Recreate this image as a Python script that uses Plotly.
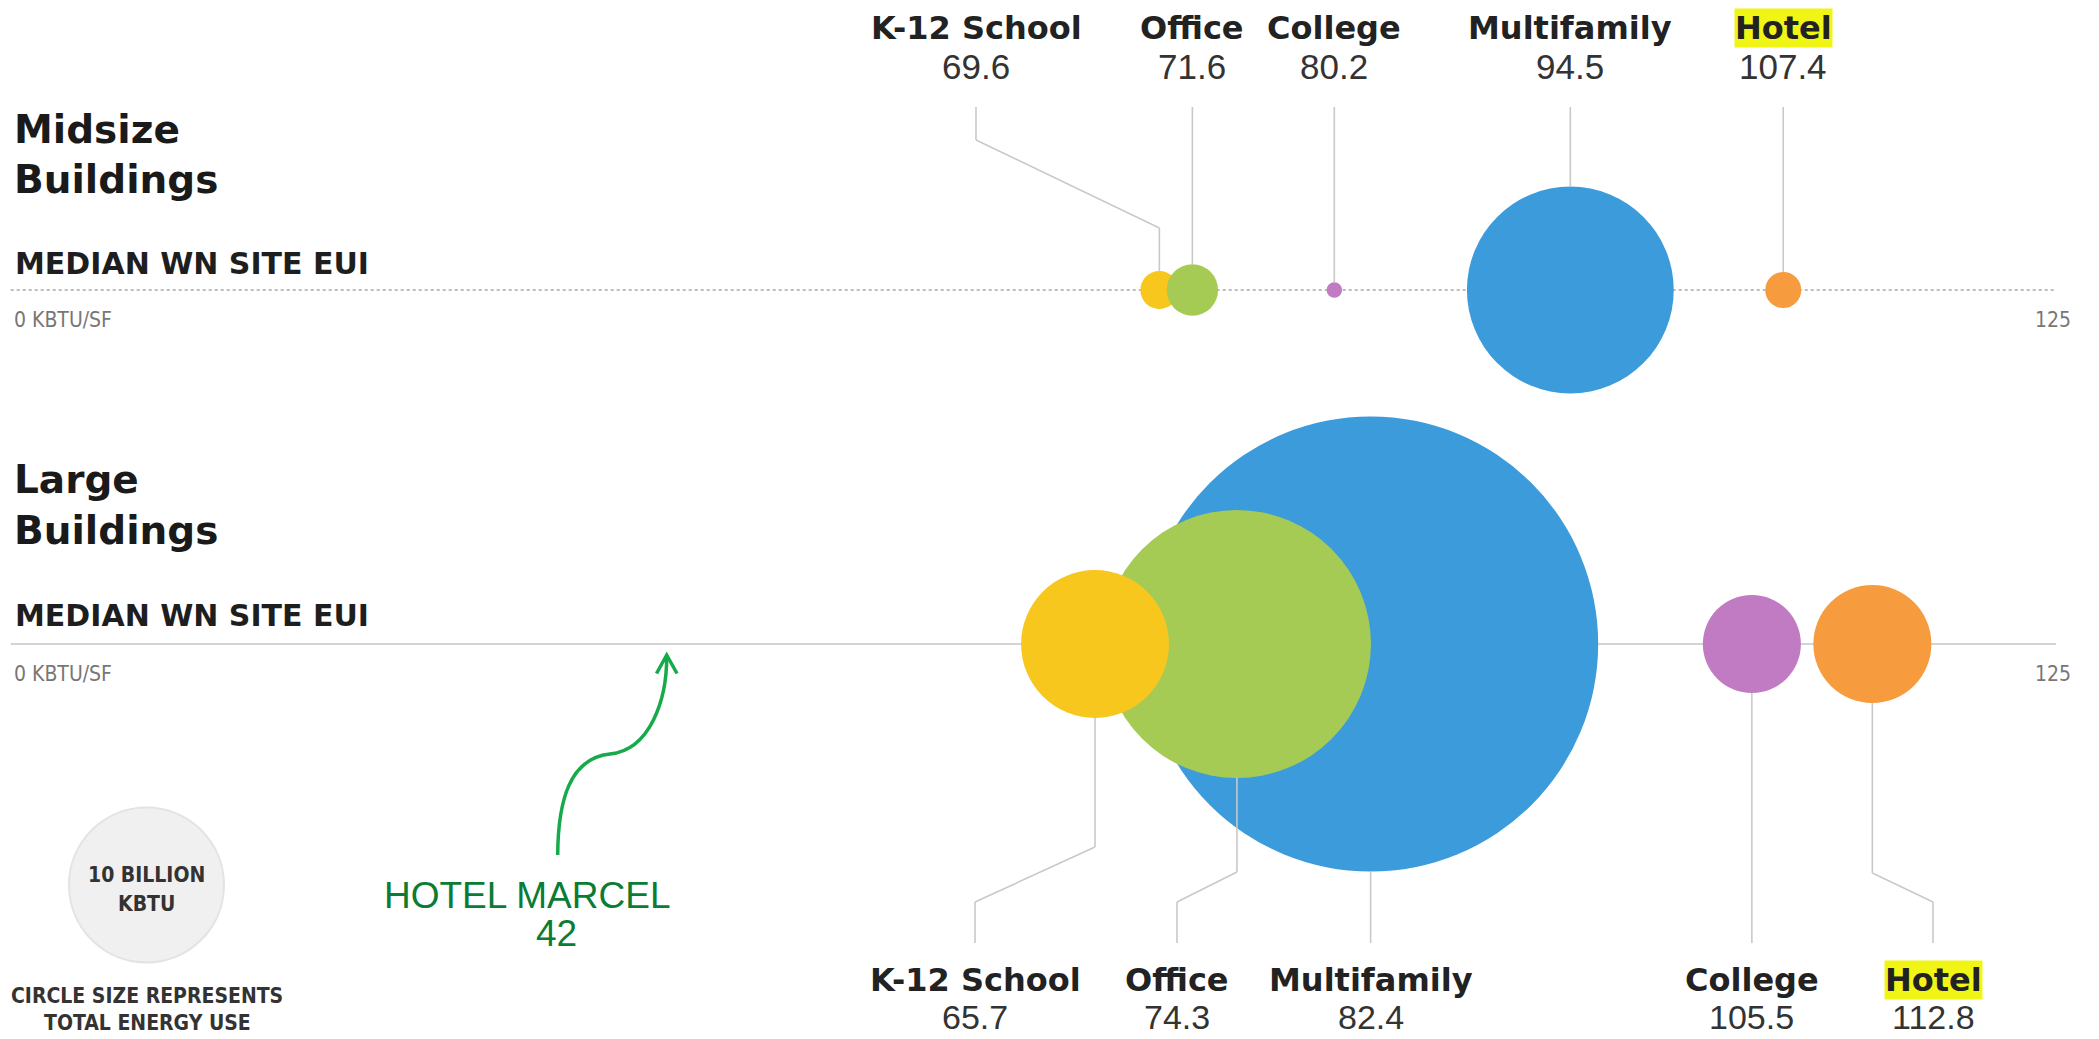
import math
import plotly.graph_objects as go

# ---------------- data ----------------
categories = ["K-12 School", "Office", "College", "Multifamily", "Hotel"]
midsize_eui = [69.6, 71.6, 80.2, 94.5, 107.4]          # kBtu/sf
large_eui = [65.7, 74.3, 105.5, 82.4, 112.8]           # kBtu/sf
midsize_energy = [0.6, 1.1, 0.1, 17.8, 0.54]           # billion kBtu (circle area)
large_energy = [9.1, 29.9, 4.0, 86.2, 5.8]             # billion kBtu (circle area)
legend_energy = 10                                     # billion kBtu
axis_min, axis_max = 0, 125
axis_min_label = "0 KBTU/SF"
axis_max_label = "125"
highlight_category = "Hotel"
callout_name = "HOTEL MARCEL"
callout_value = 42

# ---------------- styling / layout ----------------
W, H = 2099, 1039
X0_PX = 10.7
PX_PER_UNIT = 16.504
LEGEND_D = 155.0
SIZEREF = 2.0 * legend_energy / LEGEND_D ** 2

colors = {"K-12 School": "#f8c71d", "Office": "#a6cb55", "College": "#c17bc2",
          "Multifamily": "#3b9bdb", "Hotel": "#f79c3e"}
ROW_Y = {"mid": 290, "large": 644}

NAME_FONT = "DejaVu Sans"
VALUE_FONT = "Liberation Sans"
NARROW = "Liberation Sans Narrow, DejaVu Sans Condensed, Arial Narrow, sans-serif"
LINE_COL = "#c9c9c9"


def xval(px):
    return (px - X0_PX) / PX_PER_UNIT


def xpx(v):
    return X0_PX + v * PX_PER_UNIT


def diam(e):
    return math.sqrt(2.0 * e / SIZEREF)


fig = go.Figure()

# circles (draw order per row controls overlap)
mid_order = [0, 1, 2, 3, 4]
large_order = [3, 1, 0, 2, 4]
for eui, energy, order, row in [(midsize_eui, midsize_energy, mid_order, "mid"),
                                (large_eui, large_energy, large_order, "large")]:
    fig.add_trace(go.Scatter(
        x=[eui[i] for i in order],
        y=[ROW_Y[row]] * len(order),
        mode="markers",
        marker=dict(size=[energy[i] for i in order], sizemode="area", sizeref=SIZEREF,
                    color=[colors[categories[i]] for i in order], opacity=1,
                    line=dict(width=0)),
        hoverinfo="skip", showlegend=False))

# legend circle
fig.add_trace(go.Scatter(
    x=[xval(146.5)], y=[885], mode="markers",
    marker=dict(size=[legend_energy], sizemode="area", sizeref=SIZEREF,
                color="#ebebeb", line=dict(color="#d8d8d8", width=2)),
    hoverinfo="skip", showlegend=False))

shapes = []
# axis lines
shapes.append(dict(type="line", xref="x", yref="y", x0=axis_min, x1=xval(2056),
                   y0=ROW_Y["mid"], y1=ROW_Y["mid"], layer="below",
                   line=dict(color="#bdbdbd", width=2, dash="dot")))
shapes.append(dict(type="line", xref="x", yref="y", x0=axis_min, x1=xval(2056),
                   y0=ROW_Y["large"], y1=ROW_Y["large"], layer="below",
                   line=dict(color="#d4d4d4", width=2)))


def polyline(pts):
    for (xa, ya), (xb, yb) in zip(pts[:-1], pts[1:]):
        shapes.append(dict(type="line", xref="x", yref="y", x0=xa, y0=ya, x1=xb, y1=yb,
                           layer="above", line=dict(color=LINE_COL, width=1.6)))


annotations = []


def ann(text, px, py, size, color="#222222", family=NAME_FONT, xanchor="center", bg=None):
    d = dict(text=text, x=px / W, y=1 - py / H, xref="paper", yref="paper",
             xanchor=xanchor, yanchor="middle", showarrow=False,
             font=dict(size=size, color=color, family=family))
    if bg:
        d["bgcolor"] = bg
        d["borderpad"] = 0
    annotations.append(d)


# midsize leaders + top labels
mid_label_px = {"K-12 School": 976}
for i, cat in enumerate(categories):
    cx = midsize_eui[i]
    top = ROW_Y["mid"] - diam(midsize_energy[i]) / 2
    if cat in mid_label_px:
        lx = mid_label_px[cat]
        polyline([(xval(lx), 107), (xval(lx), 140), (cx, 228), (cx, top)])
    else:
        lx = xpx(cx)
        polyline([(cx, 107), (cx, top)])
    ann("<b>%s</b>" % cat, lx, 28, 32,
        bg="#f1f516" if cat == highlight_category else None)
    ann("%.1f" % midsize_eui[i], lx, 67, 35, color="#333333", family=VALUE_FONT)

# large leaders + bottom labels
large_label_px = {"K-12 School": (975, 847), "Office": (1177, 872), "Hotel": (1933, 873)}
for i, cat in enumerate(categories):
    cx = large_eui[i]
    bot = ROW_Y["large"] + diam(large_energy[i]) / 2
    if cat in large_label_px:
        lx, bend = large_label_px[cat]
        polyline([(cx, bot), (cx, bend), (xval(lx), 902), (xval(lx), 943)])
    else:
        lx = xpx(cx)
        polyline([(cx, bot), (cx, 943)])
    ann("<b>%s</b>" % cat, lx, 980, 32,
        bg="#f1f516" if cat == highlight_category else None)
    ann("%.1f" % large_eui[i], lx, 1017, 34, color="#333333", family=VALUE_FONT)

# section titles
ann("<b>Midsize</b>", 12, 129, 39, color="#1a1a1a", xanchor="left")
ann("<b>Buildings</b>", 12, 179, 39, color="#1a1a1a", xanchor="left")
ann("<b>Large</b>", 12, 479, 39, color="#1a1a1a", xanchor="left")
ann("<b>Buildings</b>", 12, 530, 39, color="#1a1a1a", xanchor="left")
for row, ty in [("mid", 264), ("large", 615)]:
    ann("<b>MEDIAN WN SITE EUI</b>", 13, ty, 30, color="#1e1e1e", xanchor="left")
for ty in [320, 674]:
    ann(axis_min_label, 12, ty, 21, color="#777777", family=NARROW, xanchor="left")
    ann(axis_max_label, 2073, ty, 21, color="#777777", family=NARROW, xanchor="right")

# size legend text
ann("<b>10 BILLION</b>", 146.5, 875, 21, color="#333333", family=NARROW)
ann("<b>KBTU</b>", 146.5, 904, 21, color="#333333", family=NARROW)
ann("<b>CIRCLE SIZE REPRESENTS</b>", 147, 996, 21, color="#333333", family=NARROW)
ann("<b>TOTAL ENERGY USE</b>", 147, 1023, 21, color="#333333", family=NARROW)

# callout
GREEN = "#0a7c33"
ann(callout_name, 527, 895, 37, color=GREEN, family=VALUE_FONT)
ann(str(callout_value), 556, 933, 37, color=GREEN, family=VALUE_FONT)


def P(px, py):
    return "%.5f %.5f" % (px / W, 1 - py / H)


arrow_path = ("M " + P(557.7, 855) + " C " + P(558, 800) + " " + P(570, 758) + " " + P(610, 754)
              + " C " + P(650, 750) + " " + P(667, 700) + " " + P(666.7, 656))
shapes.append(dict(type="path", xref="paper", yref="paper", path=arrow_path,
                   line=dict(color="#16aa4a", width=3.5)))
head = "M " + P(656.5, 673.5) + " L " + P(666.7, 655) + " L " + P(677, 673.5)
shapes.append(dict(type="path", xref="paper", yref="paper", path=head,
                   line=dict(color="#16aa4a", width=3.5)))

fig.update_layout(
    width=W, height=H,
    margin=dict(l=0, r=0, t=0, b=0),
    paper_bgcolor="white", plot_bgcolor="white",
    xaxis=dict(range=[xval(0), xval(W)], visible=False, fixedrange=True),
    yaxis=dict(range=[H, 0], visible=False, fixedrange=True),
    shapes=shapes, annotations=annotations,
    showlegend=False, hovermode=False,
)

fig.write_html("out.html", config={"displayModeBar": False},
               post_script="document.body.style.margin='0px';document.body.style.overflow='hidden';")
